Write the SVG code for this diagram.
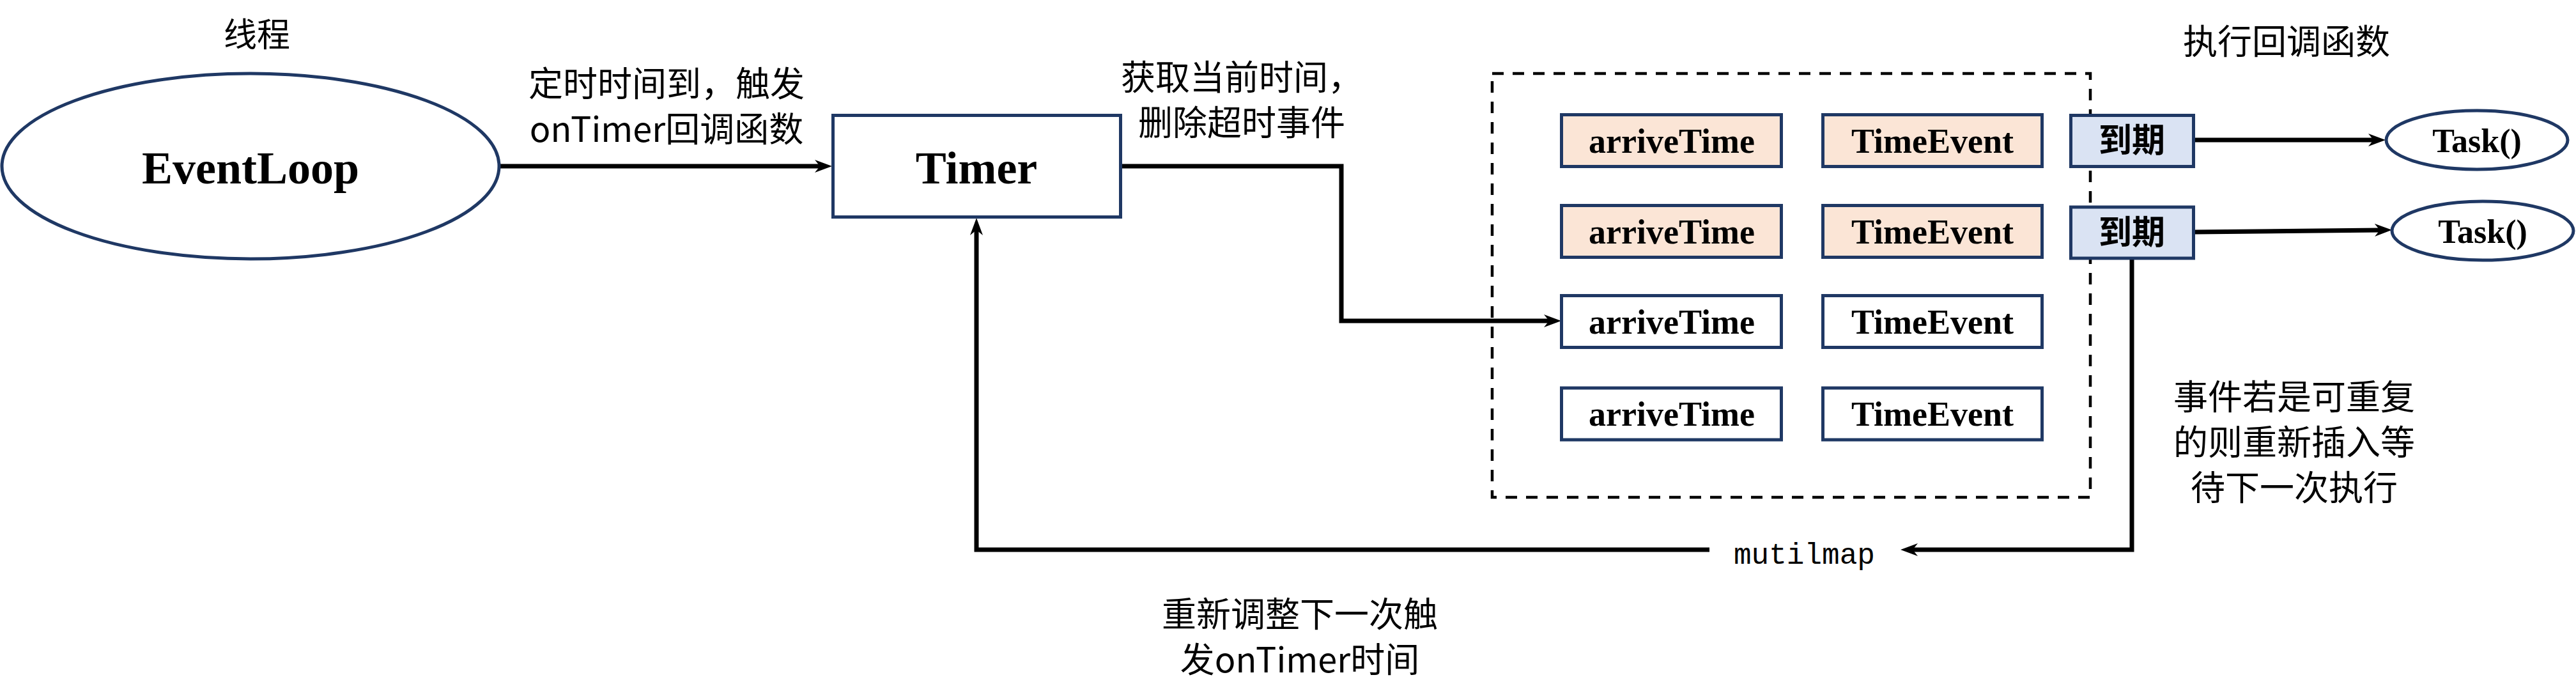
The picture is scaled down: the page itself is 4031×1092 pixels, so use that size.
<svg xmlns="http://www.w3.org/2000/svg" width="4031" height="1092" viewBox="0 0 4031 1092">
<style>
.bg{fill:#ffffff}
.node{stroke:#1f3864;stroke-width:5}
.plain{fill:#ffffff}
.peach{fill:#fbe5d6}
.blue{fill:#dae3f3}
.conn{fill:none;stroke:#000000;stroke-width:7}
.dash{fill:none;stroke:#000000;stroke-width:4.5;stroke-dasharray:18 14}
.en{font-family:"Liberation Serif","Times New Roman",serif;font-weight:bold;fill:#000;text-anchor:middle}
.zh{font-family:"Noto Sans CJK SC","Liberation Serif",sans-serif;font-size:54px;fill:#000;text-anchor:middle}
.mono{font-family:"Liberation Mono",monospace}
</style>
<defs>
<marker id="arr" markerUnits="userSpaceOnUse" markerWidth="30" markerHeight="24" viewBox="0 -12 30 24" refX="8" refY="0" orient="auto">
<path d="M0,-10 L27,0 L0,10 L8,0 Z" fill="#000"/>
</marker>
</defs>
<rect class="bg" x="0" y="0" width="4031" height="1092"/>

<g id="group-box">
<rect class="dash" x="2335" y="115" width="936" height="663"/>
</g>

<g id="connectors">
<path class="conn" d="M782,260 L1283,260" marker-end="url(#arr)"/>
<path class="conn" d="M1756,260 L2099,260 L2099,502 L2424,502" marker-end="url(#arr)"/>
<path class="conn" d="M3435,219 L3714,219" marker-end="url(#arr)"/>
<path class="conn" d="M3435,363 L3724,360" marker-end="url(#arr)"/>
<path class="conn" d="M3336,406 L3336,860 L2993,860" marker-end="url(#arr)"/>
<path class="conn" d="M2675,860 L1528,860 L1528,360" marker-end="url(#arr)"/>
</g>

<g id="eventloop">
<ellipse class="node plain" cx="392" cy="260" rx="389" ry="145"/>
<text class="en" x="392" y="287" font-size="72">EventLoop</text>
</g>

<g id="timer">
<rect class="node plain" x="1303.5" y="180.5" width="450" height="159"/>
<text class="en" x="1528" y="287" font-size="72">Timer</text>
</g>

<g id="row1-arrive"><rect class="node peach" x="2443.5" y="179.5" width="344" height="81"/><text class="en" x="2616" y="239" font-size="54">arriveTime</text></g>
<g id="row1-event"><rect class="node peach" x="2852.5" y="179.5" width="343" height="81"/><text class="en" x="3024" y="239" font-size="54">TimeEvent</text></g>
<g id="row2-arrive"><rect class="node peach" x="2443.5" y="321.5" width="344" height="81"/><text class="en" x="2616" y="381" font-size="54">arriveTime</text></g>
<g id="row2-event"><rect class="node peach" x="2852.5" y="321.5" width="343" height="81"/><text class="en" x="3024" y="381" font-size="54">TimeEvent</text></g>
<g id="row3-arrive"><rect class="node plain" x="2443.5" y="462.5" width="344" height="81"/><text class="en" x="2616" y="522" font-size="54">arriveTime</text></g>
<g id="row3-event"><rect class="node plain" x="2852.5" y="462.5" width="343" height="81"/><text class="en" x="3024" y="522" font-size="54">TimeEvent</text></g>
<g id="row4-arrive"><rect class="node plain" x="2443.5" y="607" width="344" height="81"/><text class="en" x="2616" y="666" font-size="54">arriveTime</text></g>
<g id="row4-event"><rect class="node plain" x="2852.5" y="607" width="343" height="81"/><text class="en" x="3024" y="666" font-size="54">TimeEvent</text></g>

<g id="expire1"><rect class="node blue" x="3240.5" y="180.5" width="192" height="80"/><text class="zh" x="3336" y="238" font-weight="bold" style="font-size:52px">到期</text></g>
<g id="expire2"><rect class="node blue" x="3240.5" y="324" width="192" height="80"/><text class="zh" x="3336" y="382" font-weight="bold" style="font-size:52px">到期</text></g>

<g id="task1"><ellipse class="node plain" cx="3876" cy="219" rx="142" ry="46"/><text class="en" x="3876" y="238" font-size="52">Task()</text></g>
<g id="task2"><ellipse class="node plain" cx="3885" cy="361" rx="142" ry="46"/><text class="en" x="3885" y="380" font-size="52">Task()</text></g>

<g id="labels">
<text class="zh" x="402" y="73" style="font-size:52px">线程</text>
<text class="zh"><tspan x="1043" y="151">定时时间到，触发</tspan><tspan x="1043" y="222">onTimer回调函数</tspan></text>
<text class="zh"><tspan x="1943" y="141">获取当前时间，</tspan><tspan x="1943" y="212">删除超时事件</tspan></text>
<text class="zh" x="3578" y="85">执行回调函数</text>
<text class="zh"><tspan x="3590" y="641">事件若是可重复</tspan><tspan x="3590" y="712">的则重新插入等</tspan><tspan x="3590" y="783">待下一次执行</tspan></text>
<text class="zh"><tspan x="2034" y="981">重新调整下一次触</tspan><tspan x="2034" y="1052">发onTimer时间</tspan></text>
<text class="mono" x="2713" y="882" font-size="46" fill="#000">mutilmap</text>
</g>
</svg>
